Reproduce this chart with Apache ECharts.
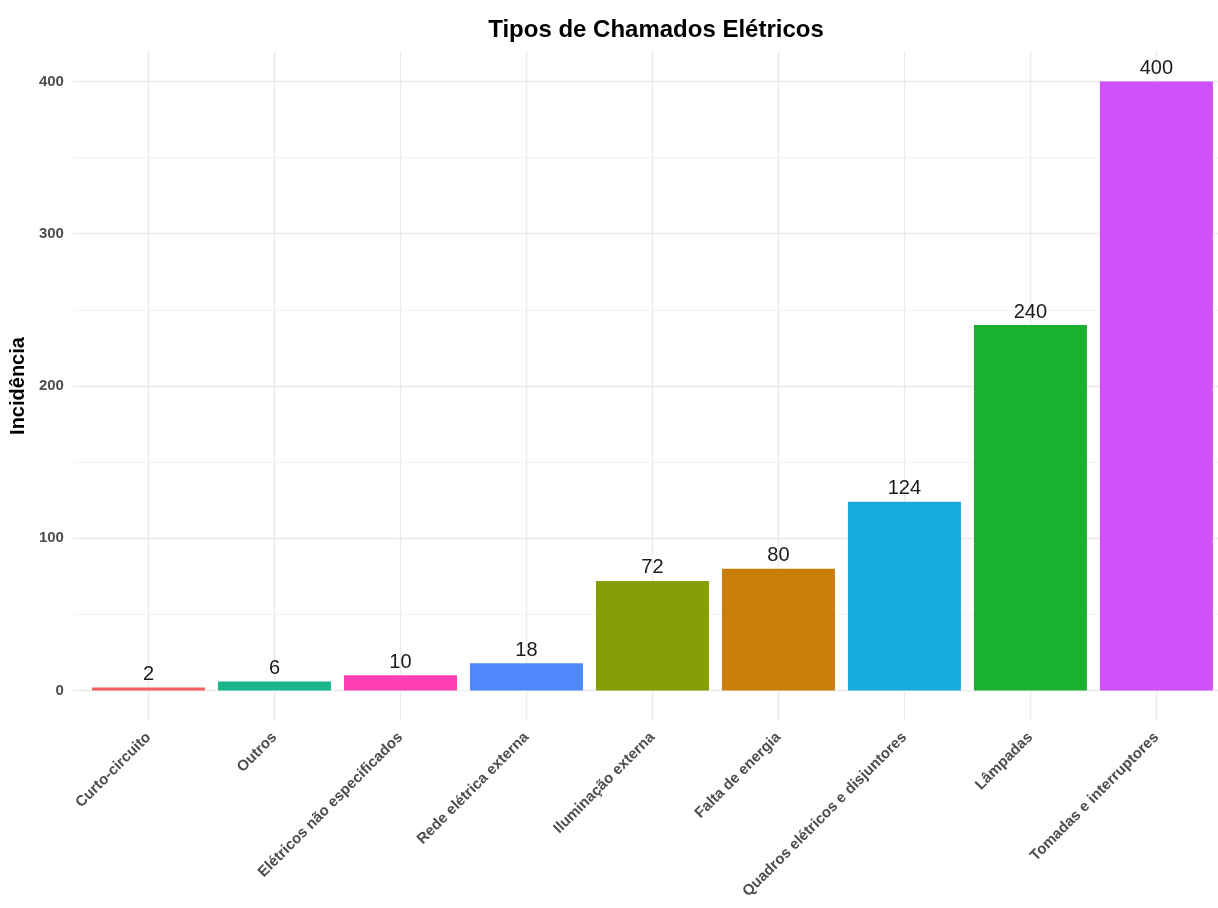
<!DOCTYPE html>
<html>
<head>
<meta charset="utf-8">
<script src="https://cdn.jsdelivr.net/npm/echarts@6/dist/echarts.min.js"></script>
<style>html,body{margin:0;padding:0;background:#fff;overflow:hidden}#c{width:1240px;height:908px}</style>
</head>
<body>
<div id="c"></div>
<script>
const categories = ['Curto-circuito','Outros','Elétricos não especificados','Rede elétrica externa','Iluminação externa','Falta de energia','Quadros elétricos e disjuntores','Lâmpadas','Tomadas e interruptores'];
const values = [2, 6, 10, 18, 72, 80, 124, 240, 400];
const colors = ['#F45F5B','#19B68C','#FF40B4','#4F87FF','#849E06','#C97E07','#17AADD','#19B12F','#D051F9'];
const yTicks = [0, 100, 200, 300, 400];

const font = 'Liberation Sans, Arial, sans-serif';
const chart = echarts.init(document.getElementById('c'), null, {renderer: 'canvas'});
chart.setOption({
  backgroundColor: '#ffffff',
  animation: false,
  title: {
    text: 'Tipos de Chamados Elétricos',
    left: 651, top: 13, textAlign: 'center',
    textStyle: {fontFamily: font, fontWeight: 'bold', fontSize: 24, color: '#000'}
  },
  grid: {left: 72, top: 51, width: 1160, height: 670, containLabel: false},
  xAxis: {
    type: 'value', min: -0.6, max: 8.6, splitNumber: 9,
    axisLine: {show: false}, axisTick: {show: false},
    splitLine: {show: true, showMinLine: false, showMaxLine: false, lineStyle: {color: '#ebebeb', width: 1.4}},
    axisLabel: {
      showMinLabel: false, showMaxLabel: false,
      rotate: 45, margin: 14, interval: 0,
      fontFamily: font, fontWeight: 'bold', fontSize: 15, color: '#4d4d4d',
      formatter: v => (Number.isInteger(v) && categories[v]) ? categories[v] : ''
    }
  },
  yAxis: {
    type: 'value', min: -20, max: 420, splitNumber: 5,
    name: 'Incidência', nameLocation: 'middle', nameGap: 41, nameRotate: 90,
    nameTextStyle: {fontFamily: font, fontWeight: 'bold', fontSize: 20, color: '#000'},
    axisLine: {show: false}, axisTick: {show: false},
    splitLine: {show: true, showMinLine: false, showMaxLine: false, lineStyle: {color: '#ebebeb', width: 1.4}},
    minorTick: {show: false, splitNumber: 2},
    minorSplitLine: {show: true, lineStyle: {color: '#f3f3f3', width: 1}},
    axisLabel: {
      showMinLabel: false, showMaxLabel: false, margin: 9,
      fontFamily: font, fontWeight: 'bold', fontSize: 15, color: '#4d4d4d',
      formatter: v => yTicks.includes(v) ? String(v) : ''
    }
  },
  series: [{
    type: 'bar',
    barWidth: 113,
    data: values.map((v, i) => ({value: [i, v], itemStyle: {color: colors[i]}})),
    label: {
      show: true, position: 'top', distance: 3,
      fontFamily: font, fontSize: 20, color: '#1a1a1a',
      formatter: p => String(p.value[1])
    }
  }]
});
</script>
</body>
</html>
